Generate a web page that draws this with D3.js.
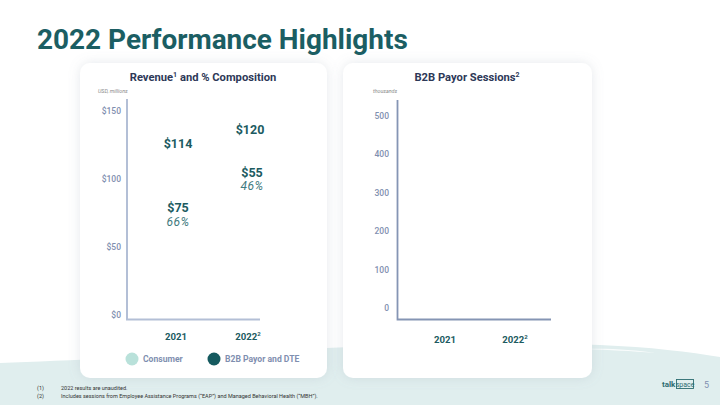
<!DOCTYPE html>
<html><head><meta charset="utf-8">
<script src="https://cdn.jsdelivr.net/npm/d3@7/dist/d3.min.js"></script>
<style>html,body{margin:0;padding:0;background:#fff;}svg{display:block;font-family:Roboto,"Noto Sans",sans-serif;}</style>
</head><body>
<svg id="c" width="720" height="405"></svg>
<script>
// ---- data ----
const revYears = ["2021", "2022"];
const consumerRev = [75, 55];
const b2bRev = [39, 65];
const totalRev = [114, 120];
const consumerPct = ["66%", "46%"];
const revTicks = [0, 50, 100, 150];
const sessYears = ["2021", "2022"];
const sessTicks = [0, 100, 200, 300, 400, 500];
const legendLabels = ["Consumer", "B2B Payor and DTE"];
const footnotes = ["2022 results are unaudited.", "Includes sessions from Employee Assistance Programs (\u201CEAP\u201D) and Managed Behavioral Health (\u201CMBH\u201D)."];

const teal = "#1c5b61", navy = "#2d3857", grey = "#7f8fb0", light = "#b9e1da";
const svg = d3.select("#c");
const defs = svg.append("defs");
const f = defs.append("filter").attr("id","sh").attr("x","-20%").attr("y","-20%").attr("width","140%").attr("height","140%");
f.append("feDropShadow").attr("dx",0).attr("dy",0).attr("stdDeviation",6).attr("flood-color","#8a94a8").attr("flood-opacity",0.22);

// background wave
svg.append("path")
  .attr("d","M0,363 C150,358 420,338 600,345 C650,347 690,352 720,357 L720,405 L0,405 Z")
  .attr("fill","#e0eeee");
svg.append("path")
  .attr("d","M585,349 C610,348 635,350 655,353 C630,351 610,350 585,349 Z")
  .attr("fill","#ffffff").attr("opacity",0.8);

// title
const title = svg.append("text").attr("x",37).attr("y",49).attr("fill","#1b5e63")
  .attr("font-weight",700).attr("font-size",30).text("2022 Performance Highlights");
const tw = title.node().getComputedTextLength();
title.attr("font-size", 30*371/tw);

// cards
svg.append("rect").attr("x",80).attr("y",63).attr("width",247).attr("height",315).attr("rx",10)
  .attr("fill","#fff").attr("filter","url(#sh)");
svg.append("rect").attr("x",343).attr("y",63).attr("width",249).attr("height",315).attr("rx",10)
  .attr("fill","#fff").attr("filter","url(#sh)");

// ---------- left chart ----------
const yL = d3.scaleLinear().domain([0,150]).range([315,111]);
const xL = d3.scaleBand().domain(revYears).range([140,284]);
const gL = svg.append("g");
const tL = gL.append("text").attr("x",203).attr("y",81).attr("text-anchor","middle").attr("fill",navy)
  .attr("font-weight",700).attr("font-size",11.2);
tL.append("tspan").text("Revenue");
tL.append("tspan").attr("font-size",7).attr("dy",-4.5).text("1");
tL.append("tspan").attr("dy",4.5).text(" and % Composition");
gL.append("text").attr("x",98).attr("y",92.5).attr("fill","#888").attr("font-style","italic")
  .attr("font-size",5.3).text("USD, millions");
gL.selectAll(".tk").data(revTicks).join("text").attr("x",121).attr("y",d=>yL(d)).attr("dy","0.35em")
  .attr("text-anchor","end").attr("fill",grey).attr("font-weight",500).attr("font-size",8.5).text(d=>"$"+d);
gL.append("path").attr("d",`M127,99 V319.5 H260`).attr("fill","none").attr("stroke","#b3bfd6").attr("stroke-width",2);
// category labels
revYears.forEach((yr,i)=>{
  const t = gL.append("text").attr("x",xL(yr)+xL.bandwidth()/2).attr("y",339.5).attr("text-anchor","middle")
    .attr("fill",teal).attr("font-weight",700).attr("font-size",9.6);
  t.append("tspan").text(yr);
  if(i===1){ t.append("tspan").attr("font-size",6).attr("dy",-4).text("2"); }
});
// value labels (bars are not visible in the reference)
revYears.forEach((yr,i)=>{
  const cx = xL(yr)+xL.bandwidth()/2;
  gL.append("text").attr("x",cx+2).attr("y",yL(totalRev[i])-16-(i?6:0)).attr("dy","0.35em").attr("text-anchor","middle")
    .attr("fill",teal).attr("font-weight",700).attr("font-size",12.5).text("$"+totalRev[i]);
  const cy = yL(b2bRev[i]) - 54;
  gL.append("text").attr("x",cx+2+(i?2:0)).attr("y",cy).attr("dy","0.35em").attr("text-anchor","middle")
    .attr("fill",teal).attr("font-weight",700).attr("font-size",12.5).text("$"+consumerRev[i]);
  gL.append("text").attr("x",cx+2+(i?2:0)).attr("y",cy+13.5).attr("dy","0.35em").attr("text-anchor","middle")
    .attr("fill","#3f7b80").attr("font-style","italic").attr("font-size",12).attr("letter-spacing",0.5).text(consumerPct[i]);
});
// legend
const legColors = [light, "#155a5f"];
const legX = [132, 214];
legendLabels.forEach((l,i)=>{
  gL.append("circle").attr("cx",legX[i]).attr("cy",359).attr("r",6.5).attr("fill",legColors[i]);
  gL.append("text").attr("x",legX[i]+11).attr("y",359).attr("dy","0.35em").attr("fill",grey)
    .attr("font-weight",700).attr("font-size",8.6).text(l);
});

// ---------- right chart ----------
const yR = d3.scaleLinear().domain([0,500]).range([308,116]);
const xR = d3.scaleBand().domain(sessYears).range([410,550]);
const gR = svg.append("g");
const tR = gR.append("text").attr("x",467).attr("y",81).attr("text-anchor","middle").attr("fill",navy)
  .attr("font-weight",700).attr("font-size",11.2);
tR.append("tspan").text("B2B Payor Sessions");
tR.append("tspan").attr("font-size",7).attr("dy",-4.5).text("2");
gR.append("text").attr("x",373).attr("y",93).attr("fill","#888").attr("font-style","italic")
  .attr("font-size",5.3).text("thousands");
gR.selectAll(".tk").data(sessTicks).join("text").attr("x",389).attr("y",d=>yR(d)).attr("dy","0.35em")
  .attr("text-anchor","end").attr("fill",grey).attr("font-weight",500).attr("font-size",8.5).text(d=>d);
gR.append("path").attr("d",`M397.5,100 V319.5 H551`).attr("fill","none").attr("stroke","#8595b4").attr("stroke-width",1.8);
sessYears.forEach((yr,i)=>{
  const t = gR.append("text").attr("x",xR(yr)+xR.bandwidth()/2).attr("y",343).attr("text-anchor","middle")
    .attr("fill",teal).attr("font-weight",700).attr("font-size",9.6);
  t.append("tspan").text(yr);
  if(i===1){ t.append("tspan").attr("font-size",6).attr("dy",-4).text("2"); }
});

// footnotes
footnotes.forEach((t,i)=>{
  svg.append("text").attr("x",37).attr("y",390+i*8).attr("font-size",5.5).attr("fill","#333").text("("+(i+1)+")");
  svg.append("text").attr("x",61).attr("y",390+i*8).attr("font-size",5.5).attr("fill","#333").text(t);
});

// logo & page number
svg.append("text").attr("x",662).attr("y",387).attr("font-size",8).attr("font-weight",700).attr("fill","#2d6c70").text("talk");
svg.append("rect").attr("x",676.5).attr("y",379.5).attr("width",17).attr("height",9).attr("fill","none").attr("stroke","#2d6c70").attr("stroke-width",0.9);
svg.append("text").attr("x",685).attr("y",386.5).attr("text-anchor","middle").attr("font-size",7).attr("fill","#2d6c70").text("space");
svg.append("text").attr("x",704).attr("y",387.5).attr("font-size",9).attr("fill",grey).text("5");
</script>
</body></html>
